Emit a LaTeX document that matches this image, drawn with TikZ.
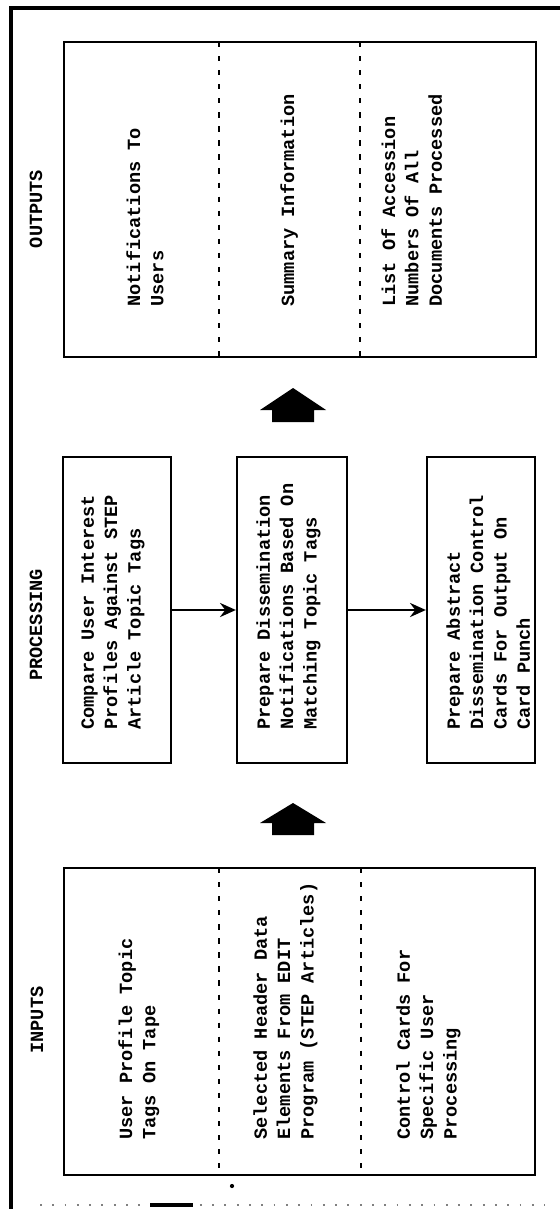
\documentclass[tikz,border=0pt]{standalone}
\usepackage{fontspec}
\setmonofont{Liberation Mono}
\usetikzlibrary{arrows.meta,positioning,calc}

\tikzset{
  box/.style={draw, line width=1.3pt, inner sep=0pt},
  txt/.style={rotate=90, anchor=north west, align=left, inner sep=0pt,
    font=\ttfamily\bfseries\fontsize{10.6}{13.3}\selectfont},
  head/.style={rotate=90, inner sep=0pt,
    font=\ttfamily\bfseries\fontsize{10.6}{13.3}\selectfont},
  divider/.style={line width=1pt, dash pattern=on 3pt off 5pt},
  flow/.style={line width=1.5pt, -{Stealth[length=9pt,width=8pt]}},
}

\begin{document}
\begin{tikzpicture}[x=0.02cm, y=-0.02cm]
        \useasboundingbox (0,0) rectangle (560,1209);
        % frame
        \draw[line width=2pt] (11,1209) -- (11,8) -- (560,8);
        \draw[gray, line width=0.6pt, dash pattern=on 1pt off 6pt] (40,1205) -- (545,1205);
        \fill (150,1203) rectangle (193,1207);
        \fill (232,1186) circle (1.2pt);
        % column titles
        \node[head] (lout) at (36,209) {OUTPUTS};
        \node[head] (lproc) at (36,625) {PROCESSING};
        \node[head] (lin) at (37,1020) {INPUTS};
        % outputs
        \node[box, minimum width=9.44cm, minimum height=6.3cm] (outbox) at (300,199.5) {};
        \draw[divider] (219,42) -- (219,357);
        \draw[divider] (360,42) -- (360,357);
        \node[txt] (onotif) at (126,307) {Notifications To\\Users};
        \node[txt] (osum) at (280,307) {Summary Information};
        \node[txt] (olist) at (381,307) {List Of Accession\\Numbers Of All\\Documents Processed};
        % big arrow outputs <- processing
        \fill (293,388) -- (326,410) -- (314,410) -- (314,422) -- (272,422) -- (272,410) -- (260,410) -- cycle;
        % processing
        \node[box, minimum width=2.16cm, minimum height=6.12cm] (pcomp) at (117,610) {};
        \node[box, minimum width=2.2cm, minimum height=6.12cm] (pdiss) at (292,610) {};
        \node[box, minimum width=2.16cm, minimum height=6.12cm] (pcard) at (481,610) {};
        \node[txt] at (81,730) {Compare User Interest\\Profiles Against STEP\\Article Topic Tags};
        \node[txt] at (256,730) {Prepare Dissemination\\Notifications Based On\\Matching Topic Tags};
        \node[txt] at (446,730) {Prepare Abstract\\Dissemination Control\\Cards For Output On\\Card Punch};
        \draw[flow] (pcomp.east) -- (pdiss.west);
        \draw[flow] (pdiss.east) -- (pcard.west);
        % big arrow processing <- inputs
        \fill (293,803) -- (326,823) -- (314,823) -- (314,835) -- (272,835) -- (272,823) -- (260,823) -- cycle;
        % inputs
        \node[box, minimum width=9.42cm, minimum height=6.14cm] (inbox) at (299.5,1021.5) {};
        \draw[divider] (219,868) -- (219,1175);
        \draw[divider] (361,868) -- (361,1175);
        \node[txt] (iprof) at (118,1140) {User Profile Topic\\Tags On Tape};
        \node[txt] (ihead) at (253,1140) {Selected Header Data\\Elements From EDIT\\Program (STEP Articles)};
        \node[txt] (icard) at (396,1140) {Control Cards For\\Specific User\\Processing};
\end{tikzpicture}
\end{document}
